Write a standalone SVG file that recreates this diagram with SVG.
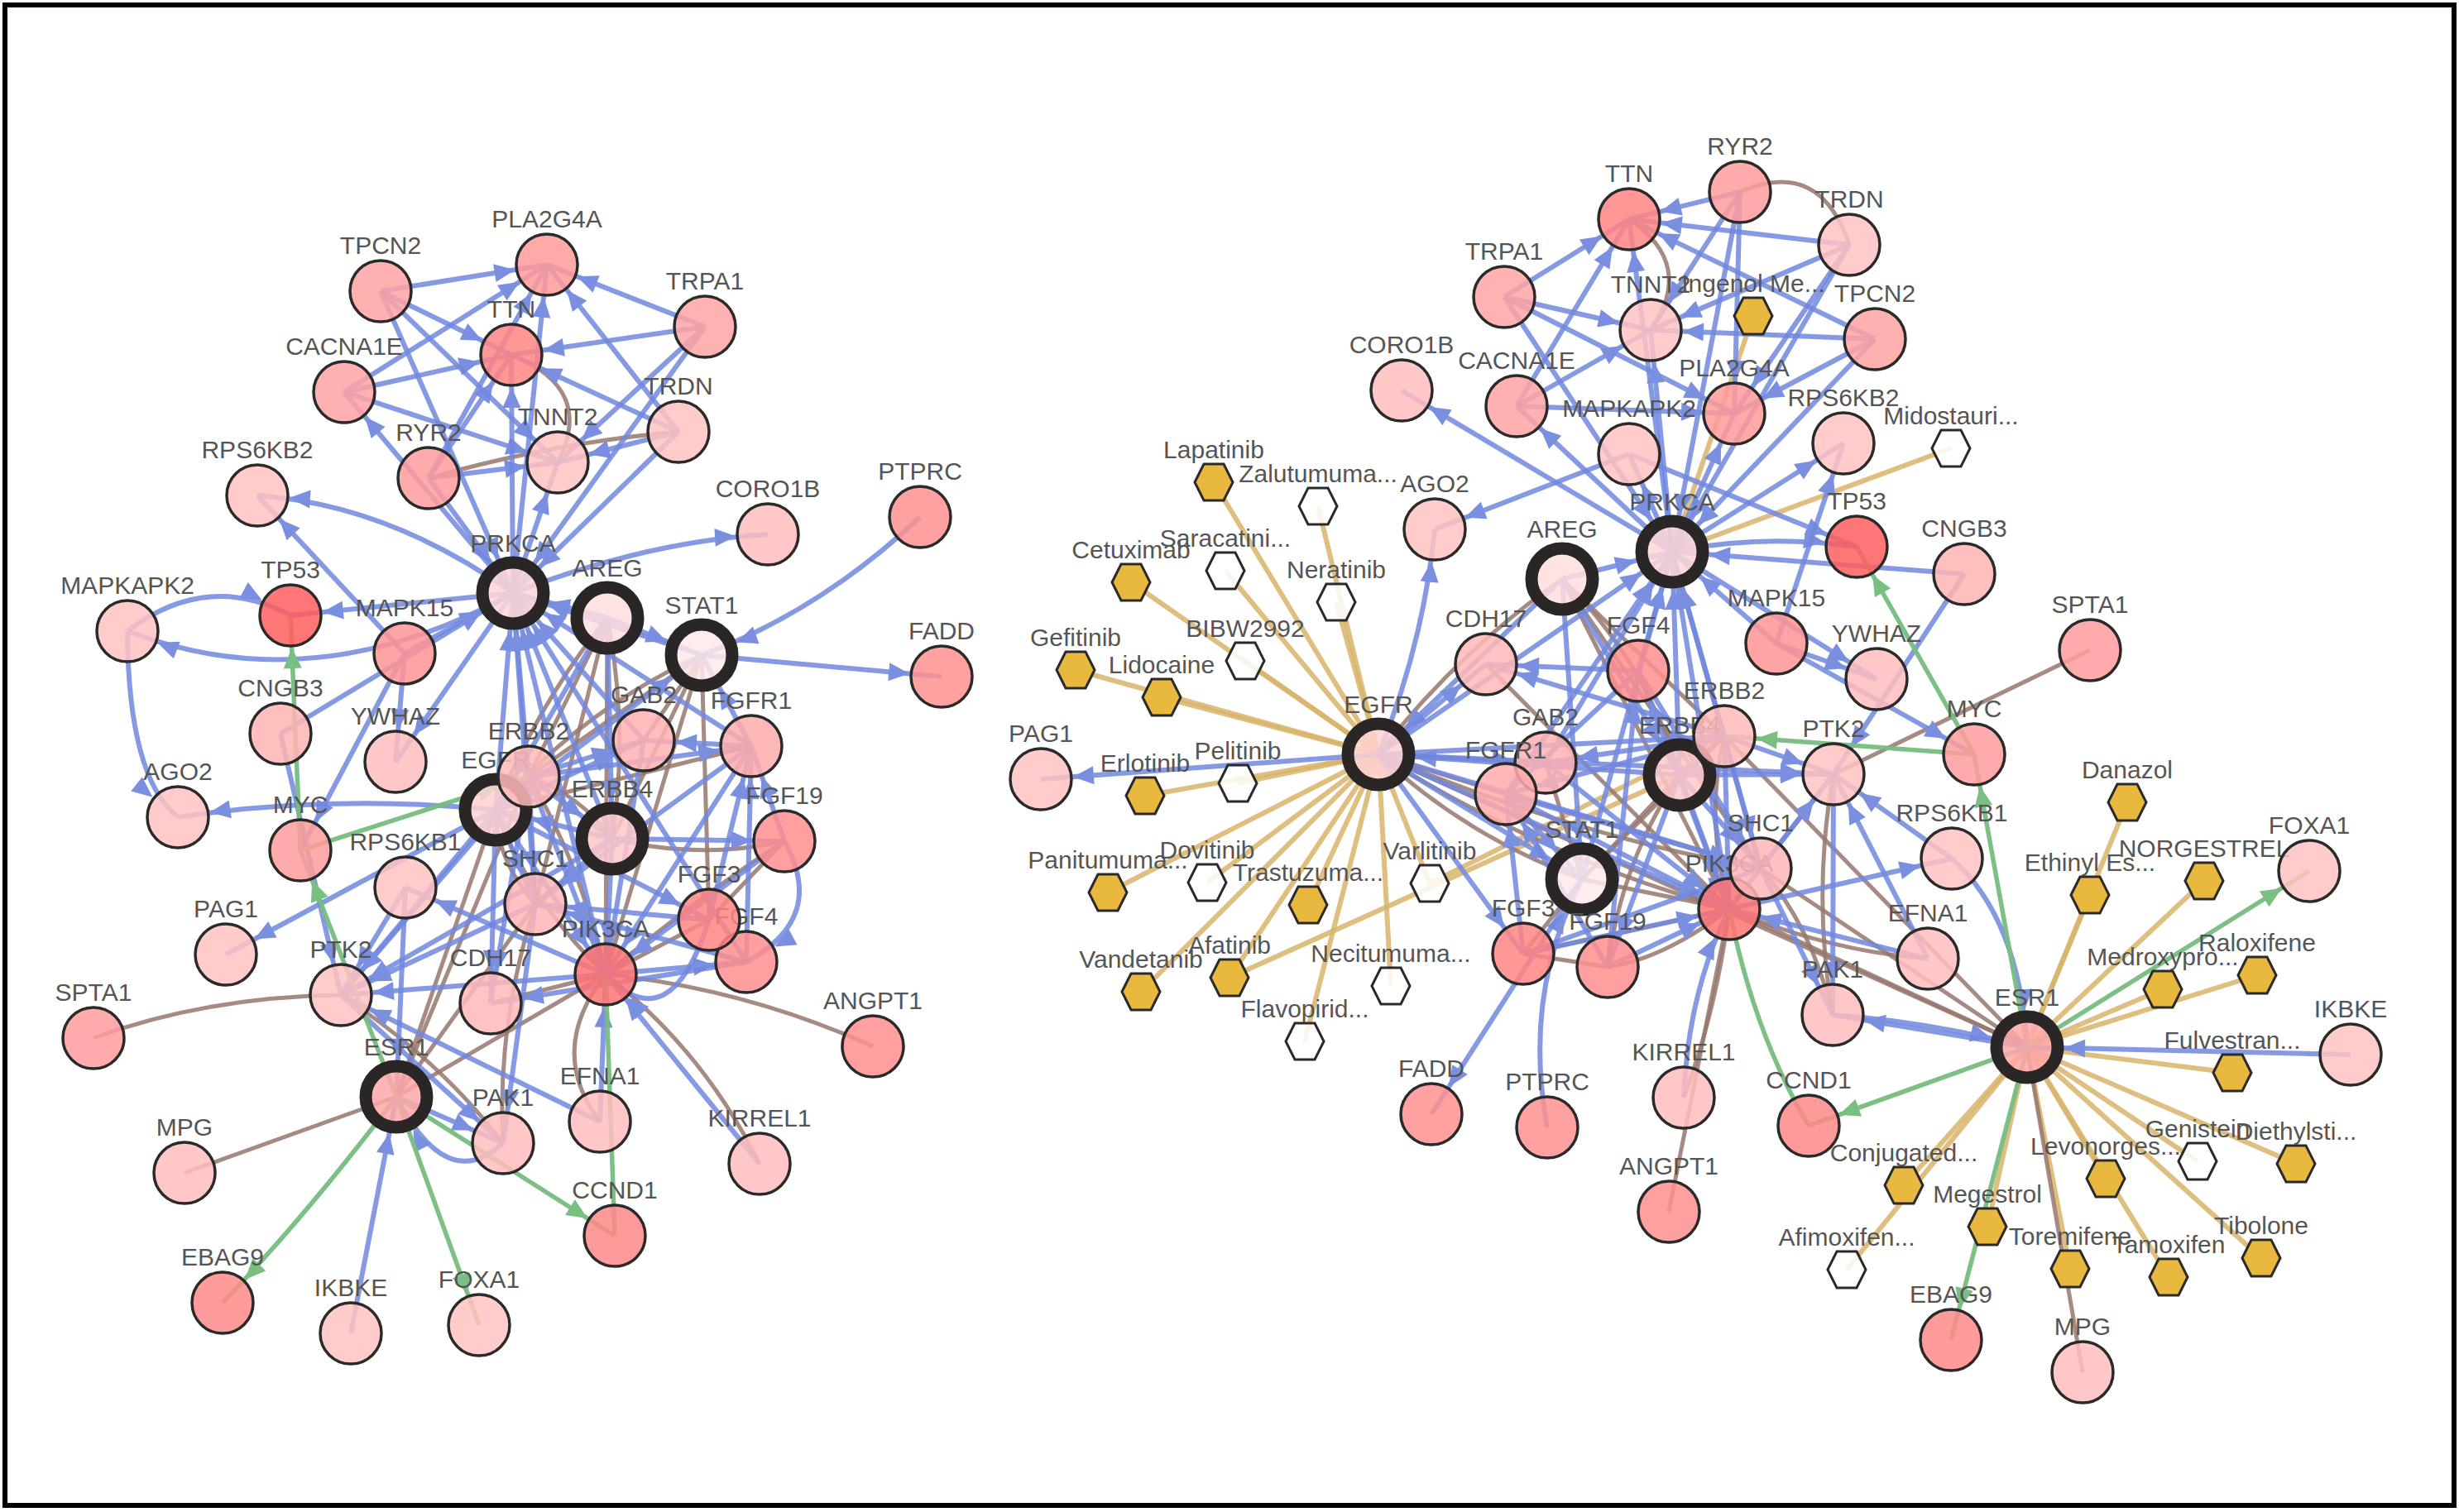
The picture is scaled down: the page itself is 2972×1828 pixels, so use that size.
<svg xmlns="http://www.w3.org/2000/svg" xmlns:xlink="http://www.w3.org/1999/xlink" width="2972" height="1828" viewBox="0 0 2972 1828">
<style>
text{font-family:'Liberation Sans',Arial,Helvetica,sans-serif;font-size:30px;fill:#555;text-anchor:middle}
circle{stroke:#2a2a2a;stroke-width:3.5;fill-opacity:.85}
.ring circle{stroke:#2a2626;stroke-width:15}
.hg{fill:#e8b83f;stroke:#2a2a2a;stroke-width:3}
.hw{fill:#fff;fill-opacity:.85;stroke:#2a2a2a;stroke-width:3}
.b{fill:none;stroke:#7187de;stroke-width:6;stroke-opacity:.85}
.n{fill:none;stroke:#97776d;stroke-width:5;stroke-opacity:.85}
.g{fill:none;stroke:#76bd7f;stroke-width:5.5;stroke-opacity:.95}
.d{fill:none;stroke:#d8b46a;stroke-width:6;stroke-opacity:.85}
.mb{marker-end:url(#mb)}
.mr{marker-end:url(#mr)}
.mg{marker-end:url(#mg)}
</style>
<defs>
<marker id="mb" markerUnits="userSpaceOnUse" markerWidth="70" markerHeight="22" refX="64" refY="11" orient="auto" overflow="visible"><path d="M0,0L25,11L0,22z" fill="#7b8fe0"/></marker>
<marker id="mr" markerUnits="userSpaceOnUse" markerWidth="76" markerHeight="22" refX="70" refY="11" orient="auto" overflow="visible"><path d="M0,0L25,11L0,22z" fill="#7b8fe0"/></marker>
<marker id="mg" markerUnits="userSpaceOnUse" markerWidth="70" markerHeight="22" refX="64" refY="11" orient="auto" overflow="visible"><path d="M0,0L25,11L0,22z" fill="#78bf81"/></marker>
<polygon id="hx" points="-23,0 -12,-22 12,-22 23,0 12,22 -12,22"/>
</defs>
<rect x="0" y="0" width="2972" height="1828" fill="#fff"/>
<rect x="6" y="6" width="2960" height="1814" fill="none" stroke="#000" stroke-width="6"/>

<g id="connectors">
<g id="left-edges">
<path class="n" d="M618,429Q720,470 674,559"/>
<path class="n" d="M518,578Q670,535 820,522"/>
<path class="n" d="M113,1255Q250,1205 412,1203"/>
<path class="n" d="M479,1326L223,1418"/>
<path class="n" d="M732,1178Q900,1195 1055,1265"/>
<path class="n" d="M732,1178Q850,1270 918,1407"/>
<path class="n" d="M732,1178Q660,1270 725,1356"/>
<path class="n" d="M412,1203Q530,1280 608,1382"/>
<path class="n" d="M647,1093Q600,1240 608,1382"/>
<path class="n" d="M734,747Q650,850 599,979"/>
<path class="n" d="M734,747L639,939"/>
<path class="n" d="M734,747Q760,880 740,1014"/>
<path class="n" d="M734,747L647,1093"/>
<path class="n" d="M734,747L732,1178"/>
<path class="n" d="M848,792Q700,860 599,979"/>
<path class="n" d="M848,792L639,939"/>
<path class="n" d="M848,792L740,1014"/>
<path class="n" d="M848,792L778,895"/>
<path class="n" d="M848,792L732,1178"/>
<path class="n" d="M848,792L857,1112"/>
<path class="n" d="M479,1326L599,979"/>
<path class="n" d="M479,1326L639,939"/>
<path class="n" d="M479,1326L647,1093"/>
<path class="n" d="M479,1326L732,1178"/>
<path class="n" d="M732,1178Q700,1040 639,939"/>
<path class="n" d="M732,1178Q640,1090 599,979"/>
<path class="n" d="M732,1178L857,1112"/>
<path class="n" d="M732,1178Q850,1080 948,1017"/>
<path class="n" d="M732,1178L593,1213"/>
<path class="n" d="M740,1014Q845,1040 948,1017"/>
<path class="n" d="M948,1017L857,1112"/>
<path class="n" d="M599,979L908,902"/>
<path class="n" d="M647,1093Q600,1040 599,979"/>
<path class="n" d="M639,939Q700,960 740,1014"/>

<path class="b mb" d="M518,578L618,429"/>
<path class="b mb" d="M518,578L674,559"/>
<path class="b mb" d="M518,578L661,320"/>
<path class="b mr" d="M518,578L620,717"/>
<path class="b mb" d="M820,522L618,429"/>
<path class="b mb" d="M820,522L674,559"/>
<path class="b mb" d="M820,522L661,320"/>
<path class="b mr" d="M820,522L620,717"/>
<path class="b mb" d="M852,395L618,429"/>
<path class="b mb" d="M852,395L674,559"/>
<path class="b mb" d="M852,395L661,320"/>
<path class="b mr" d="M852,395L620,717"/>
<path class="b mb" d="M416,474L618,429"/>
<path class="b mb" d="M416,474L674,559"/>
<path class="b mb" d="M416,474L661,320"/>
<path class="b mb" d="M460,352L618,429"/>
<path class="b mb" d="M460,352L674,559"/>
<path class="b mb" d="M460,352L661,320"/>
<path class="b mr" d="M460,352L620,717"/>
<path class="b mb" d="M620,717L618,429"/>
<path class="b mb" d="M620,717L674,559"/>
<path class="b mb" d="M620,717L661,320"/>
<path class="b mb" d="M620,717L416,474"/>
<path class="b mb" d="M620,717Q470,610 311,599"/>
<path class="b mb" d="M620,717Q780,655 928,646"/>
<path class="b mb" d="M620,717L351,744"/>
<path class="b mb" d="M620,717Q380,850 154,763"/>
<path class="b mb" d="M620,717L478,921"/>
<path class="b mb" d="M154,763Q250,690 351,744"/>
<path class="b mb" d="M154,763Q155,940 215,988"/>
<path class="b mr" d="M489,790L620,717"/>
<path class="b mb" d="M489,790L363,1028"/>
<path class="b mb" d="M489,790L478,921"/>
<path class="b mb" d="M489,790L311,599"/>
<path class="b mr" d="M339,887L620,717"/>
<path class="b mb" d="M339,887L412,1203"/>
<path class="b mr" d="M1112,625Q990,740 848,792"/>
<path class="b mb" d="M848,792L1138,818"/>
<path class="b mb" d="M599,979Q400,960 215,988"/>
<path class="b mb" d="M599,979L273,1154"/>
<path class="b mb" d="M490,1073L412,1203"/>
<path class="b mr" d="M490,1073L479,1326"/>
<path class="b mr" d="M424,1612L479,1326"/>
<path class="b mr" d="M608,1382Q540,1445 479,1326"/>
<path class="b mb" d="M479,1326L608,1382"/>
<path class="b mb" d="M647,1093L608,1382"/>
<path class="b mb" d="M732,1178L412,1203"/>
<path class="b mb" d="M647,1093L412,1203"/>
<path class="b mb" d="M725,1356L412,1203"/>
<path class="b mb" d="M725,1356L732,1178"/>
<path class="b mb" d="M918,1407L732,1178"/>
<path class="b mr" d="M599,979L620,717"/>
<path class="b mr" d="M639,939L620,717"/>
<path class="b mr" d="M740,1014L620,717"/>
<path class="b mr" d="M778,895L620,717"/>
<path class="b mr" d="M908,902L620,717"/>
<path class="b mr" d="M647,1093L620,717"/>
<path class="b mr" d="M732,1178L620,717"/>
<path class="b mr" d="M734,747L620,717"/>
<path class="b mr" d="M848,792L620,717"/>
<path class="b mr" d="M902,1163L620,717"/>
<path class="b mr" d="M734,747L599,979"/>
<path class="b mr" d="M734,747L740,1014"/>
<path class="b mr" d="M734,747L848,792"/>
<path class="b mr" d="M639,939L740,1014"/>
<path class="b mr" d="M740,1014L599,979"/>
<path class="b mb" d="M599,979L647,1093"/>
<path class="b mb" d="M639,939L647,1093"/>
<path class="b mb" d="M740,1014L647,1093"/>
<path class="b mb" d="M599,979L778,895"/>
<path class="b mb" d="M639,939L778,895"/>
<path class="b mb" d="M599,979L732,1178"/>
<path class="b mb" d="M639,939L732,1178"/>
<path class="b mb" d="M740,1014L732,1178"/>
<path class="b mb" d="M778,895L732,1178"/>
<path class="b mb" d="M908,902L732,1178"/>
<path class="b mr" d="M599,979L848,792"/>
<path class="b mb" d="M857,1112L908,902"/>
<path class="b mb" d="M902,1163L908,902"/>
<path class="b mb" d="M948,1017L908,902"/>
<path class="b mb" d="M908,902L647,1093"/>
<path class="b mb" d="M908,902L778,895"/>
<path class="b mr" d="M908,902L848,792"/>
<path class="b mb" d="M599,979L412,1203"/>
<path class="b mb" d="M639,939L412,1203"/>
<path class="b mb" d="M740,1014L412,1203"/>
<path class="b mb" d="M599,979L593,1213"/>
<path class="b mb" d="M639,939L593,1213"/>
<path class="b mb" d="M732,1178L902,1163"/>
<path class="b mb" d="M948,1017Q1000,1110 902,1163"/>
<path class="b mb" d="M857,1112Q810,1260 732,1178"/>
<path class="b mb" d="M948,1017L732,1178"/>
<path class="b mb" d="M857,1112L647,1093"/>
<path class="b mb" d="M902,1163L647,1093"/>
<path class="b mb" d="M740,1014L948,1017"/>
<path class="b mb" d="M639,939L908,902"/>
<path class="b mb" d="M599,979L857,1112"/>
<path class="b mb" d="M732,1178L490,1073"/>
<path class="b mb" d="M902,1163L593,1213"/>
<path class="b mb" d="M412,1203L608,1382"/>

<path class="g mg" d="M363,1028L351,744"/>
<path class="g mg" d="M363,1028L639,939"/>
<path class="g mg" d="M479,1326L363,1028"/>
<path class="g mg" d="M479,1326Q370,1470 269,1575"/>
<path class="g mg" d="M479,1326L579,1602"/>
<path class="g mg" d="M479,1326L743,1494"/>
<path class="g" d="M732,1178L743,1494"/>
</g>

<g id="right-edges">
<path class="d" d="M1467,583L1666,912"/>
<path class="d" d="M1593,612L1666,912"/>
<path class="d" d="M1481,690L1666,912"/>
<path class="d" d="M1367,704L1666,912"/>
<path class="d" d="M1615,728L1666,912"/>
<path class="d" d="M1505,799L1666,912"/>
<path class="d" d="M1300,810L1666,912"/>
<path class="d" d="M1404,843L1666,912"/>
<path class="d" d="M1384,962L1666,912"/>
<path class="d" d="M1496,947L1666,912"/>
<path class="d" d="M1339,1079L1666,912"/>
<path class="d" d="M1459,1067L1666,912"/>
<path class="d" d="M1581,1094L1666,912"/>
<path class="d" d="M1728,1068L1666,912"/>
<path class="d" d="M1379,1199L1666,912"/>
<path class="d" d="M1486,1182L1666,912"/>
<path class="d" d="M1681,1192L1666,912"/>
<path class="d" d="M1577,1259L1666,912"/>
<path class="d" d="M1486,1182L2030,937"/>
<path class="d" d="M1728,1068L2084,890"/>
<path class="d" d="M2119,382L2021,667"/>
<path class="d" d="M2358,542L2021,667"/>
<path class="d" d="M2571,970L2450,1266"/>
<path class="d" d="M2526,1082L2450,1266"/>
<path class="d" d="M2664,1065L2450,1266"/>
<path class="d" d="M2614,1196L2450,1266"/>
<path class="d" d="M2728,1179L2450,1266"/>
<path class="d" d="M2698,1297L2450,1266"/>
<path class="d" d="M2656,1404L2450,1266"/>
<path class="d" d="M2775,1407L2450,1266"/>
<path class="d" d="M2545,1425L2450,1266"/>
<path class="d" d="M2402,1483L2450,1266"/>
<path class="d" d="M2502,1534L2450,1266"/>
<path class="d" d="M2621,1544L2450,1266"/>
<path class="d" d="M2733,1521L2450,1266"/>
<path class="d" d="M2301,1433L2450,1266"/>
<path class="d" d="M2232,1535L2450,1266"/>

<path class="n" d="M1969,265Q2050,320 1995,399"/>
<path class="n" d="M2103,232Q2200,190 2235,296"/>
<path class="n" d="M2526,786L2216,936"/>
<path class="n" d="M2450,1266L2517,1659"/>
<path class="n" d="M2090,1099L2017,1465"/>
<path class="n" d="M2090,1099Q2075,1220 2035,1327"/>
<path class="n" d="M2090,1099Q2210,1150 2330,1159"/>
<path class="n" d="M2216,936Q2190,1080 2215,1227"/>
<path class="n" d="M2128,1050Q2190,1120 2215,1227"/>
<path class="n" d="M1888,700Q1760,790 1666,912"/>
<path class="n" d="M1888,700L2084,890"/>
<path class="n" d="M1888,700Q1990,800 2030,937"/>
<path class="n" d="M1888,700L2128,1050"/>
<path class="n" d="M1888,700L2090,1099"/>
<path class="n" d="M1912,1063Q1770,1010 1666,912"/>
<path class="n" d="M1912,1063L2084,890"/>
<path class="n" d="M1912,1063L2030,937"/>
<path class="n" d="M1912,1063L1868,922"/>
<path class="n" d="M1912,1063L2090,1099"/>
<path class="n" d="M1912,1063L1841,1153"/>
<path class="n" d="M2450,1266L1666,912"/>
<path class="n" d="M2450,1266L2084,890"/>
<path class="n" d="M2450,1266L2128,1050"/>
<path class="n" d="M2450,1266L2090,1099"/>
<path class="n" d="M2090,1099Q2060,990 2084,890"/>
<path class="n" d="M2090,1099Q1870,1040 1666,912"/>
<path class="n" d="M2090,1099L1841,1153"/>
<path class="n" d="M2090,1099Q2010,1160 1943,1169"/>
<path class="n" d="M2090,1099L1796,803"/>
<path class="n" d="M2030,937Q1960,1040 1943,1169"/>
<path class="n" d="M1943,1169L1841,1153"/>
<path class="n" d="M1666,912L1820,960"/>
<path class="n" d="M2128,1050Q1900,1010 1666,912"/>
<path class="n" d="M2084,890L2030,937"/>

<path class="b mb" d="M2103,232L1969,265"/>
<path class="b mb" d="M2103,232L1995,399"/>
<path class="b mb" d="M2103,232L2096,500"/>
<path class="b mr" d="M2103,232L2021,667"/>
<path class="b mb" d="M2235,296L1969,265"/>
<path class="b mb" d="M2235,296L1995,399"/>
<path class="b mb" d="M2235,296L2096,500"/>
<path class="b mr" d="M2235,296L2021,667"/>
<path class="b mb" d="M1818,359L1969,265"/>
<path class="b mb" d="M1818,359L1995,399"/>
<path class="b mb" d="M1818,359L2096,500"/>
<path class="b mr" d="M1818,359L2021,667"/>
<path class="b mb" d="M1833,491L1969,265"/>
<path class="b mb" d="M1833,491L1995,399"/>
<path class="b mb" d="M1833,491L2096,500"/>
<path class="b mb" d="M2266,410L1969,265"/>
<path class="b mb" d="M2266,410L1995,399"/>
<path class="b mb" d="M2266,410L2096,500"/>
<path class="b mr" d="M2266,410L2021,667"/>
<path class="b mb" d="M2021,667L1969,265"/>
<path class="b mb" d="M2021,667L1995,399"/>
<path class="b mb" d="M2021,667L2096,500"/>
<path class="b mb" d="M2021,667L1833,491"/>
<path class="b mb" d="M2021,667L2228,536"/>
<path class="b mb" d="M2021,667L1694,472"/>
<path class="b mb" d="M2021,667Q2130,645 2244,661"/>
<path class="b mb" d="M2021,667L1969,549"/>
<path class="b mb" d="M2021,667L2268,821"/>
<path class="b mb" d="M1969,549L2244,661"/>
<path class="b mb" d="M1969,549L1734,640"/>
<path class="b mr" d="M2147,778L2021,667"/>
<path class="b mb" d="M2147,778L2386,912"/>
<path class="b mb" d="M2147,778L2268,821"/>
<path class="b mb" d="M2147,778L2228,536"/>
<path class="b mr" d="M2374,694L2021,667"/>
<path class="b mb" d="M2374,694L2216,936"/>
<path class="b mr" d="M1870,1363Q1840,1200 1912,1063"/>
<path class="b mb" d="M1912,1063L1730,1347"/>
<path class="b mb" d="M1666,912Q1720,780 1734,640"/>
<path class="b mb" d="M1666,912L1258,942"/>
<path class="b mb" d="M2359,1038L2216,936"/>
<path class="b mr" d="M2359,1038Q2440,1110 2450,1266"/>
<path class="b mr" d="M2841,1275L2450,1266"/>
<path class="b mr" d="M2215,1227Q2330,1235 2450,1266"/>
<path class="b mb" d="M2450,1266L2215,1227"/>
<path class="b mb" d="M2128,1050L2215,1227"/>
<path class="b mb" d="M2090,1099L2216,936"/>
<path class="b mb" d="M2128,1050L2216,936"/>
<path class="b mb" d="M2330,1159L2216,936"/>
<path class="b mb" d="M2330,1159L2090,1099"/>
<path class="b mb" d="M2035,1327Q2040,1200 2090,1099"/>
<path class="b mr" d="M1666,912L2021,667"/>
<path class="b mr" d="M2084,890L2021,667"/>
<path class="b mr" d="M2030,937L2021,667"/>
<path class="b mr" d="M1868,922L2021,667"/>
<path class="b mr" d="M1820,960L2021,667"/>
<path class="b mr" d="M2128,1050L2021,667"/>
<path class="b mr" d="M2090,1099L2021,667"/>
<path class="b mr" d="M1888,700L2021,667"/>
<path class="b mr" d="M1912,1063L2021,667"/>
<path class="b mr" d="M1980,811L2021,667"/>
<path class="b mr" d="M1888,700L1666,912"/>
<path class="b mr" d="M1888,700L2030,937"/>
<path class="b mr" d="M1888,700L1912,1063"/>
<path class="b mb" d="M1666,912L2084,890"/>
<path class="b mr" d="M2030,937L1666,912"/>
<path class="b mb" d="M1666,912L2128,1050"/>
<path class="b mb" d="M2084,890L2128,1050"/>
<path class="b mb" d="M2030,937L2128,1050"/>
<path class="b mb" d="M1666,912L1868,922"/>
<path class="b mb" d="M2084,890L1868,922"/>
<path class="b mb" d="M1666,912L2090,1099"/>
<path class="b mb" d="M2084,890L2090,1099"/>
<path class="b mb" d="M2030,937L2090,1099"/>
<path class="b mb" d="M1868,922L2090,1099"/>
<path class="b mb" d="M1820,960L2090,1099"/>
<path class="b mr" d="M1666,912L1912,1063"/>
<path class="b mb" d="M1841,1153L1820,960"/>
<path class="b mb" d="M1980,811L1820,960"/>
<path class="b mb" d="M1943,1169L1820,960"/>
<path class="b mb" d="M1820,960L2128,1050"/>
<path class="b mr" d="M1820,960L1912,1063"/>
<path class="b mb" d="M1666,912L2216,936"/>
<path class="b mb" d="M2084,890L2216,936"/>
<path class="b mb" d="M2030,937L2216,936"/>
<path class="b mb" d="M1666,912L1796,803"/>
<path class="b mb" d="M2084,890L1796,803"/>
<path class="b mb" d="M2090,1099L1980,811"/>
<path class="b mb" d="M1943,1169L1980,811"/>
<path class="b mb" d="M1841,1153L2090,1099"/>
<path class="b mb" d="M1943,1169L2090,1099"/>
<path class="b mb" d="M1841,1153L2128,1050"/>
<path class="b mb" d="M1980,811L2128,1050"/>
<path class="b mb" d="M2030,937L1943,1169"/>
<path class="b mb" d="M2084,890L1820,960"/>
<path class="b mb" d="M1666,912L1841,1153"/>
<path class="b mb" d="M2090,1099L2359,1038"/>
<path class="b mb" d="M1980,811L1796,803"/>
<path class="b mb" d="M2216,936L2215,1227"/>

<path class="g mg" d="M2386,912L2244,661"/>
<path class="g mg" d="M2386,912L2084,890"/>
<path class="g mg" d="M2450,1266L2386,912"/>
<path class="g mg" d="M2450,1266L2358,1620"/>
<path class="g mg" d="M2450,1266L2791,1053"/>
<path class="g mg" d="M2450,1266L2186,1361"/>
<path class="g" d="M2090,1099Q2120,1250 2186,1361"/>
</g>
</g>

<g id="left-nodes">
<g id="L-TPCN2"><circle cx="460" cy="352" r="37" fill="#ffa3a3"/><text x="460" y="307">TPCN2</text></g>
<g id="L-PLA2G4A"><circle cx="661" cy="320" r="37" fill="#ff9a9a"/><text x="661" y="275">PLA2G4A</text></g>
<g id="L-TRPA1"><circle cx="852" cy="395" r="37" fill="#ffa5a5"/><text x="852" y="350">TRPA1</text></g>
<g id="L-TTN"><circle cx="618" cy="429" r="37" fill="#ff8585"/><text x="618" y="384">TTN</text></g>
<g id="L-CACNA1E"><circle cx="416" cy="474" r="37" fill="#ffa3a3"/><text x="416" y="429">CACNA1E</text></g>
<g id="L-TRDN"><circle cx="820" cy="522" r="37" fill="#ffc2c2"/><text x="820" y="477">TRDN</text></g>
<g id="L-TNNT2"><circle cx="674" cy="559" r="37" fill="#ffc2c2"/><text x="674" y="514">TNNT2</text></g>
<g id="L-RYR2"><circle cx="518" cy="578" r="37" fill="#ff9c9c"/><text x="518" y="533">RYR2</text></g>
<g id="L-RPS6KB2"><circle cx="311" cy="599" r="37" fill="#ffc2c2"/><text x="311" y="554">RPS6KB2</text></g>
<g id="L-CORO1B"><circle cx="928" cy="646" r="37" fill="#ffbdbd"/><text x="928" y="601">CORO1B</text></g>
<g id="L-PTPRC"><circle cx="1112" cy="625" r="37" fill="#ff9090"/><text x="1112" y="580">PTPRC</text></g>
<g id="L-PRKCA" class="ring"><circle cx="620" cy="717" r="37" fill="#ffd7d7"/><text x="620" y="667">PRKCA</text></g>
<g id="L-AREG" class="ring"><circle cx="734" cy="747" r="37" fill="#ffdede"/><text x="734" y="697">AREG</text></g>
<g id="L-STAT1" class="ring"><circle cx="848" cy="792" r="37" fill="#ffe9e9"/><text x="848" y="742">STAT1</text></g>
<g id="L-FADD"><circle cx="1138" cy="818" r="37" fill="#ff9090"/><text x="1138" y="773">FADD</text></g>
<g id="L-MAPKAPK2"><circle cx="154" cy="763" r="37" fill="#ffc2c2"/><text x="154" y="718">MAPKAPK2</text></g>
<g id="L-TP53"><circle cx="351" cy="744" r="37" fill="#ff5e5e"/><text x="351" y="699">TP53</text></g>
<g id="L-MAPK15"><circle cx="489" cy="790" r="37" fill="#ff9494"/><text x="489" y="745">MAPK15</text></g>
<g id="L-CNGB3"><circle cx="339" cy="887" r="37" fill="#ffb4b4"/><text x="339" y="842">CNGB3</text></g>
<g id="L-YWHAZ"><circle cx="478" cy="921" r="37" fill="#ffbdbd"/><text x="478" y="876">YWHAZ</text></g>
<g id="L-AGO2"><circle cx="215" cy="988" r="37" fill="#ffc2c2"/><text x="215" y="943">AGO2</text></g>
<g id="L-MYC"><circle cx="363" cy="1028" r="37" fill="#ff9c9c"/><text x="363" y="983">MYC</text></g>
<g id="L-RPS6KB1"><circle cx="490" cy="1073" r="37" fill="#ffc2c2"/><text x="490" y="1028">RPS6KB1</text></g>
<g id="L-PAG1"><circle cx="273" cy="1154" r="37" fill="#ffc2c2"/><text x="273" y="1109">PAG1</text></g>
<g id="L-GAB2"><circle cx="778" cy="895" r="37" fill="#ffb2b2"/><text x="778" y="850">GAB2</text></g>
<g id="L-FGFR1"><circle cx="908" cy="902" r="37" fill="#ffabab"/><text x="908" y="857">FGFR1</text></g>
<g id="L-EGFR" class="ring"><circle cx="599" cy="979" r="37" fill="#ffd2d2"/><text x="599" y="929">EGFR</text></g>
<g id="L-ERBB4" class="ring"><circle cx="740" cy="1014" r="37" fill="#ffc8c8"/><text x="740" y="964">ERBB4</text></g>
<g id="L-ERBB2"><circle cx="639" cy="939" r="37" fill="#ffbaba"/><text x="639" y="894">ERBB2</text></g>
<g id="L-FGF19"><circle cx="948" cy="1017" r="37" fill="#ff8e8e"/><text x="948" y="972">FGF19</text></g>
<g id="L-FGF4"><circle cx="902" cy="1163" r="37" fill="#ff8e8e"/><text x="902" y="1118">FGF4</text></g>
<g id="L-FGF3"><circle cx="857" cy="1112" r="37" fill="#ff8585"/><text x="857" y="1067">FGF3</text></g>
<g id="L-PIK3CA"><circle cx="732" cy="1178" r="37" fill="#ff7373"/><text x="732" y="1133">PIK3CA</text></g>
<g id="L-SHC1"><circle cx="647" cy="1093" r="37" fill="#ffb6b6"/><text x="647" y="1048">SHC1</text></g>
<g id="L-PTK2"><circle cx="412" cy="1203" r="37" fill="#ffc2c2"/><text x="412" y="1158">PTK2</text></g>
<g id="L-CDH17"><circle cx="593" cy="1213" r="37" fill="#ffb8b8"/><text x="593" y="1168">CDH17</text></g>
<g id="L-SPTA1"><circle cx="113" cy="1255" r="37" fill="#ff9c9c"/><text x="113" y="1210">SPTA1</text></g>
<g id="L-ANGPT1"><circle cx="1055" cy="1265" r="37" fill="#ff8e8e"/><text x="1055" y="1220">ANGPT1</text></g>
<g id="L-ESR1" class="ring"><circle cx="479" cy="1326" r="37" fill="#ffa8a8"/><text x="479" y="1276">ESR1</text></g>
<g id="L-EFNA1"><circle cx="725" cy="1356" r="37" fill="#ffbdbd"/><text x="725" y="1311">EFNA1</text></g>
<g id="L-PAK1"><circle cx="608" cy="1382" r="37" fill="#ffbdbd"/><text x="608" y="1337">PAK1</text></g>
<g id="L-KIRREL1"><circle cx="918" cy="1407" r="37" fill="#ffbdbd"/><text x="918" y="1362">KIRREL1</text></g>
<g id="L-MPG"><circle cx="223" cy="1418" r="37" fill="#ffbdbd"/><text x="223" y="1373">MPG</text></g>
<g id="L-CCND1"><circle cx="743" cy="1494" r="37" fill="#ff8888"/><text x="743" y="1449">CCND1</text></g>
<g id="L-EBAG9"><circle cx="269" cy="1575" r="37" fill="#ff8a8a"/><text x="269" y="1530">EBAG9</text></g>
<g id="L-IKBKE"><circle cx="424" cy="1612" r="37" fill="#ffc2c2"/><text x="424" y="1567">IKBKE</text></g>
<g id="L-FOXA1"><circle cx="579" cy="1602" r="37" fill="#ffc2c2"/><text x="579" y="1557">FOXA1</text></g>
</g>

<g id="right-nodes">
<g id="R-TTN"><circle cx="1969" cy="265" r="37" fill="#ff8585"/><text x="1969" y="220">TTN</text></g>
<g id="R-RYR2"><circle cx="2103" cy="232" r="37" fill="#ff9c9c"/><text x="2103" y="187">RYR2</text></g>
<g id="R-TRDN"><circle cx="2235" cy="296" r="37" fill="#ffc2c2"/><text x="2235" y="251">TRDN</text></g>
<g id="R-TRPA1"><circle cx="1818" cy="359" r="37" fill="#ffa5a5"/><text x="1818" y="314">TRPA1</text></g>
<g id="R-TNNT2"><circle cx="1995" cy="399" r="37" fill="#ffc2c2"/><text x="1995" y="354">TNNT2</text></g>
<g id="R-Ingenol"><use xlink:href="#hx" x="2119" y="382" class="hg"/><text x="2119" y="353">Ingenol Me...</text></g>
<g id="R-TPCN2"><circle cx="2266" cy="410" r="37" fill="#ffa3a3"/><text x="2266" y="365">TPCN2</text></g>
<g id="R-CORO1B"><circle cx="1694" cy="472" r="37" fill="#ffbdbd"/><text x="1694" y="427">CORO1B</text></g>
<g id="R-CACNA1E"><circle cx="1833" cy="491" r="37" fill="#ffa3a3"/><text x="1833" y="446">CACNA1E</text></g>
<g id="R-PLA2G4A"><circle cx="2096" cy="500" r="37" fill="#ff9a9a"/><text x="2096" y="455">PLA2G4A</text></g>
<g id="R-MAPKAPK2"><circle cx="1969" cy="549" r="37" fill="#ffc2c2"/><text x="1969" y="504">MAPKAPK2</text></g>
<g id="R-RPS6KB2"><circle cx="2228" cy="536" r="37" fill="#ffc2c2"/><text x="2228" y="491">RPS6KB2</text></g>
<g id="R-Midostaurin"><use xlink:href="#hx" x="2358" y="542" class="hw"/><text x="2358" y="513">Midostauri...</text></g>
<g id="R-Lapatinib"><use xlink:href="#hx" x="1467" y="583" class="hg"/><text x="1467" y="554">Lapatinib</text></g>
<g id="R-Zalutumumab"><use xlink:href="#hx" x="1593" y="612" class="hw"/><text x="1593" y="583">Zalutumuma...</text></g>
<g id="R-Saracatinib"><use xlink:href="#hx" x="1481" y="690" class="hw"/><text x="1481" y="661">Saracatini...</text></g>
<g id="R-Cetuximab"><use xlink:href="#hx" x="1367" y="704" class="hg"/><text x="1367" y="675">Cetuximab</text></g>
<g id="R-Neratinib"><use xlink:href="#hx" x="1615" y="728" class="hw"/><text x="1615" y="699">Neratinib</text></g>
<g id="R-BIBW2992"><use xlink:href="#hx" x="1505" y="799" class="hw"/><text x="1505" y="770">BIBW2992</text></g>
<g id="R-Gefitinib"><use xlink:href="#hx" x="1300" y="810" class="hg"/><text x="1300" y="781">Gefitinib</text></g>
<g id="R-Lidocaine"><use xlink:href="#hx" x="1404" y="843" class="hg"/><text x="1404" y="814">Lidocaine</text></g>
<g id="R-Erlotinib"><use xlink:href="#hx" x="1384" y="962" class="hg"/><text x="1384" y="933">Erlotinib</text></g>
<g id="R-Pelitinib"><use xlink:href="#hx" x="1496" y="947" class="hw"/><text x="1496" y="918">Pelitinib</text></g>
<g id="R-Panitumumab"><use xlink:href="#hx" x="1339" y="1079" class="hg"/><text x="1339" y="1050">Panitumuma...</text></g>
<g id="R-Dovitinib"><use xlink:href="#hx" x="1459" y="1067" class="hw"/><text x="1459" y="1038">Dovitinib</text></g>
<g id="R-Trastuzumab"><use xlink:href="#hx" x="1581" y="1094" class="hg"/><text x="1581" y="1065">Trastuzuma...</text></g>
<g id="R-Varlitinib"><use xlink:href="#hx" x="1728" y="1068" class="hw"/><text x="1728" y="1039">Varlitinib</text></g>
<g id="R-Vandetanib"><use xlink:href="#hx" x="1379" y="1199" class="hg"/><text x="1379" y="1170">Vandetanib</text></g>
<g id="R-Afatinib"><use xlink:href="#hx" x="1486" y="1182" class="hg"/><text x="1486" y="1153">Afatinib</text></g>
<g id="R-Necitumumab"><use xlink:href="#hx" x="1681" y="1192" class="hw"/><text x="1681" y="1163">Necitumuma...</text></g>
<g id="R-Flavopiridol"><use xlink:href="#hx" x="1577" y="1259" class="hw"/><text x="1577" y="1230">Flavopirid...</text></g>
<g id="R-AGO2"><circle cx="1734" cy="640" r="37" fill="#ffc2c2"/><text x="1734" y="595">AGO2</text></g>
<g id="R-PRKCA" class="ring"><circle cx="2021" cy="667" r="37" fill="#ffd7d7"/><text x="2021" y="617">PRKCA</text></g>
<g id="R-AREG" class="ring"><circle cx="1888" cy="700" r="37" fill="#ffdede"/><text x="1888" y="650">AREG</text></g>
<g id="R-TP53"><circle cx="2244" cy="661" r="37" fill="#ff5e5e"/><text x="2244" y="616">TP53</text></g>
<g id="R-CNGB3"><circle cx="2374" cy="694" r="37" fill="#ffb4b4"/><text x="2374" y="649">CNGB3</text></g>
<g id="R-CDH17"><circle cx="1796" cy="803" r="37" fill="#ffb8b8"/><text x="1796" y="758">CDH17</text></g>
<g id="R-FGF4"><circle cx="1980" cy="811" r="37" fill="#ff8e8e"/><text x="1980" y="766">FGF4</text></g>
<g id="R-MAPK15"><circle cx="2147" cy="778" r="37" fill="#ff9494"/><text x="2147" y="733">MAPK15</text></g>
<g id="R-SPTA1"><circle cx="2526" cy="786" r="37" fill="#ff9c9c"/><text x="2526" y="741">SPTA1</text></g>
<g id="R-YWHAZ"><circle cx="2268" cy="821" r="37" fill="#ffbdbd"/><text x="2268" y="776">YWHAZ</text></g>
<g id="R-EGFR" class="ring"><circle cx="1666" cy="912" r="37" fill="#ffd2d2"/><text x="1666" y="862">EGFR</text></g>
<g id="R-GAB2"><circle cx="1868" cy="922" r="37" fill="#ffb2b2"/><text x="1868" y="877">GAB2</text></g>
<g id="R-FGFR1"><circle cx="1820" cy="960" r="37" fill="#ffabab"/><text x="1820" y="917">FGFR1</text></g>
<g id="R-ERBB4" class="ring"><circle cx="2030" cy="937" r="37" fill="#ffc8c8"/><text x="2030" y="887">ERBB4</text></g>
<g id="R-ERBB2"><circle cx="2084" cy="890" r="37" fill="#ffbaba"/><text x="2084" y="845">ERBB2</text></g>
<g id="R-PTK2"><circle cx="2216" cy="936" r="37" fill="#ffc2c2"/><text x="2216" y="891">PTK2</text></g>
<g id="R-MYC"><circle cx="2386" cy="912" r="37" fill="#ff9c9c"/><text x="2386" y="867">MYC</text></g>
<g id="R-PAG1"><circle cx="1258" cy="942" r="37" fill="#ffc2c2"/><text x="1258" y="897">PAG1</text></g>
<g id="R-STAT1" class="ring"><circle cx="1912" cy="1063" r="37" fill="#ffe9e9"/><text x="1912" y="1013">STAT1</text></g>
<g id="R-PIK3CA"><circle cx="2090" cy="1099" r="37" fill="#ff7373"/><text x="2090" y="1054">PIK3CA</text></g>
<g id="R-SHC1"><circle cx="2128" cy="1050" r="37" fill="#ffb6b6"/><text x="2128" y="1005">SHC1</text></g>
<g id="R-RPS6KB1"><circle cx="2359" cy="1038" r="37" fill="#ffc2c2"/><text x="2359" y="993">RPS6KB1</text></g>
<g id="R-FGF3"><circle cx="1841" cy="1153" r="37" fill="#ff8585"/><text x="1841" y="1108">FGF3</text></g>
<g id="R-FGF19"><circle cx="1943" cy="1169" r="37" fill="#ff8e8e"/><text x="1943" y="1124">FGF19</text></g>
<g id="R-EFNA1"><circle cx="2330" cy="1159" r="37" fill="#ffbdbd"/><text x="2330" y="1114">EFNA1</text></g>
<g id="R-PAK1"><circle cx="2215" cy="1227" r="37" fill="#ffbdbd"/><text x="2215" y="1182">PAK1</text></g>
<g id="R-ESR1" class="ring"><circle cx="2450" cy="1266" r="37" fill="#ffa8a8"/><text x="2450" y="1216">ESR1</text></g>
<g id="R-Danazol"><use xlink:href="#hx" x="2571" y="970" class="hg"/><text x="2571" y="941">Danazol</text></g>
<g id="R-EthinylEs"><use xlink:href="#hx" x="2526" y="1082" class="hg"/><text x="2526" y="1053">Ethinyl Es...</text></g>
<g id="R-NORGESTREL"><use xlink:href="#hx" x="2664" y="1065" class="hg"/><text x="2664" y="1036">NORGESTREL</text></g>
<g id="R-Medroxypro"><use xlink:href="#hx" x="2614" y="1196" class="hg"/><text x="2614" y="1167">Medroxypro...</text></g>
<g id="R-Raloxifene"><use xlink:href="#hx" x="2728" y="1179" class="hg"/><text x="2728" y="1150">Raloxifene</text></g>
<g id="R-Fulvestrant"><use xlink:href="#hx" x="2698" y="1297" class="hg"/><text x="2698" y="1268">Fulvestran...</text></g>
<g id="R-Genistein"><use xlink:href="#hx" x="2656" y="1404" class="hw"/><text x="2656" y="1375">Genistein</text></g>
<g id="R-Diethylsti"><use xlink:href="#hx" x="2775" y="1407" class="hg"/><text x="2775" y="1378">Diethylsti...</text></g>
<g id="R-Levonorges"><use xlink:href="#hx" x="2545" y="1425" class="hg"/><text x="2545" y="1396">Levonorges...</text></g>
<g id="R-Megestrol"><use xlink:href="#hx" x="2402" y="1483" class="hg"/><text x="2402" y="1454">Megestrol</text></g>
<g id="R-Toremifene"><use xlink:href="#hx" x="2502" y="1534" class="hg"/><text x="2502" y="1505">Toremifene</text></g>
<g id="R-Tamoxifen"><use xlink:href="#hx" x="2621" y="1544" class="hg"/><text x="2621" y="1515">Tamoxifen</text></g>
<g id="R-Tibolone"><use xlink:href="#hx" x="2733" y="1521" class="hg"/><text x="2733" y="1492">Tibolone</text></g>
<g id="R-Conjugated"><use xlink:href="#hx" x="2301" y="1433" class="hg"/><text x="2301" y="1404">Conjugated...</text></g>
<g id="R-Afimoxifen"><use xlink:href="#hx" x="2232" y="1535" class="hw"/><text x="2232" y="1506">Afimoxifen...</text></g>
<g id="R-FOXA1"><circle cx="2791" cy="1053" r="37" fill="#ffc2c2"/><text x="2791" y="1008">FOXA1</text></g>
<g id="R-IKBKE"><circle cx="2841" cy="1275" r="37" fill="#ffc2c2"/><text x="2841" y="1230">IKBKE</text></g>
<g id="R-FADD"><circle cx="1730" cy="1347" r="37" fill="#ff9090"/><text x="1730" y="1302">FADD</text></g>
<g id="R-PTPRC"><circle cx="1870" cy="1363" r="37" fill="#ff9090"/><text x="1870" y="1318">PTPRC</text></g>
<g id="R-KIRREL1"><circle cx="2035" cy="1327" r="37" fill="#ffbdbd"/><text x="2035" y="1282">KIRREL1</text></g>
<g id="R-CCND1"><circle cx="2186" cy="1361" r="37" fill="#ff8888"/><text x="2186" y="1316">CCND1</text></g>
<g id="R-ANGPT1"><circle cx="2017" cy="1465" r="37" fill="#ff8e8e"/><text x="2017" y="1420">ANGPT1</text></g>
<g id="R-EBAG9"><circle cx="2358" cy="1620" r="37" fill="#ff8a8a"/><text x="2358" y="1575">EBAG9</text></g>
<g id="R-MPG"><circle cx="2517" cy="1659" r="37" fill="#ffbdbd"/><text x="2517" y="1614">MPG</text></g>
</g>
</svg>
